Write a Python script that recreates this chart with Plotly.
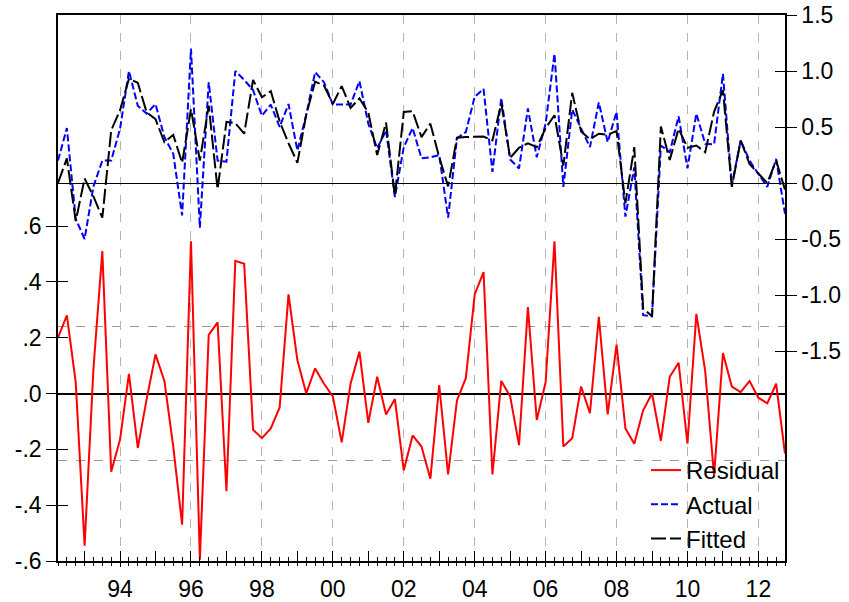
import pandas as pd
import plotly.graph_objects as go

# Quarterly sample 1992Q2 - 2012Q4
quarters = pd.period_range("1992Q2", "2012Q4", freq="Q")

residual = [
    0.20, 0.28, 0.04, -0.545, 0.09, 0.51, -0.28, -0.165, 0.07, -0.195,
    -0.02, 0.14, 0.045, -0.19, -0.47, 0.545, -0.595, 0.21, 0.255, -0.35,
    0.475, 0.465, -0.13, -0.16, -0.125, -0.05, 0.355, 0.12, 0.00, 0.09,
    0.035, -0.01, -0.175, 0.035, 0.15, -0.105, 0.06, -0.075, -0.02, -0.275,
    -0.15, -0.19, -0.305, 0.03, -0.29, -0.025, 0.055, 0.355, 0.435, -0.29,
    0.045, -0.01, -0.185, 0.31, -0.095, 0.04, 0.545, -0.19, -0.16, 0.025,
    -0.07, 0.275, -0.075, 0.175, -0.125, -0.18, -0.06, 0.00, -0.17, 0.06,
    0.11, -0.18, 0.285, 0.08, -0.295, 0.145, 0.025, 0.005, 0.045, -0.015,
    -0.035, 0.035, -0.215,
]

actual = [
    0.20, 0.49, -0.32, -0.50, -0.03, 0.20, 0.20, 0.485, 1.00, 0.69,
    0.62, 0.705, 0.41, 0.26, -0.29, 1.20, -0.40, 0.90, 0.20, 0.19,
    1.00, 0.92, 0.83, 0.60, 0.70, 0.50, 0.705, 0.29, 0.61, 0.99,
    0.90, 0.70, 0.70, 0.70, 0.91, 0.53, 0.31, 0.47, -0.125, 0.32,
    0.49, 0.22, 0.23, 0.25, -0.31, 0.40, 0.455, 0.77, 0.84, 0.10,
    0.76, 0.21, 0.13, 0.665, 0.23, 0.53, 1.155, -0.035, 0.655, 0.48,
    0.32, 0.72, 0.365, 0.635, -0.30, 0.14, -1.18, -1.19, 0.335, 0.275,
    0.595, 0.13, 0.62, 0.35, 0.345, 0.975, -0.02, 0.38, 0.20, 0.08,
    -0.035, 0.215, -0.275,
]

fitted = [
    0.00, 0.22, -0.34, 0.04, -0.12, -0.31, 0.47, 0.65, 0.93, 0.895,
    0.63, 0.57, 0.365, 0.43, 0.18, 0.66, 0.20, 0.69, -0.055, 0.545,
    0.535, 0.44, 0.92, 0.765, 0.82, 0.55, 0.355, 0.18, 0.61, 0.905,
    0.87, 0.705, 0.865, 0.67, 0.755, 0.63, 0.25, 0.54, -0.115, 0.635,
    0.64, 0.41, 0.53, 0.23, -0.03, 0.405, 0.41, 0.415, 0.415, 0.38,
    0.71, 0.225, 0.315, 0.355, 0.32, 0.49, 0.605, 0.155, 0.805, 0.46,
    0.39, 0.44, 0.43, 0.465, -0.18, 0.32, -1.12, -1.19, 0.505, 0.205,
    0.485, 0.315, 0.335, 0.275, 0.635, 0.83, -0.035, 0.38, 0.17, 0.085,
    0.00, 0.20, -0.06,
]

# standard error of the regression (band around the residual zero line)
se_regression = 0.24

resid_ticks = [-0.6, -0.4, -0.2, 0.0, 0.2, 0.4, 0.6]
resid_ticktext = ["-.6", "-.4", "-.2", ".0", ".2", ".4", ".6"]
level_ticks = [-1.5, -1.0, -0.5, 0.0, 0.5, 1.0, 1.5]
level_ticktext = ["-1.5", "-1.0", "-0.5", "0.0", "0.5", "1.0", "1.5"]
label_years = list(range(1994, 2013, 2))

# numeric time axis: year + (quarter-1)/4
x = [q.year + (q.quarter - 1) / 4 for q in quarters]
year_starts = [y for y in range(1993, 2013)]
quarter_marks = x

FONT = "Liberation Sans, Arial, Helvetica, sans-serif"

fig = go.Figure()
fig.add_trace(go.Scatter(x=x, y=residual, name="Residual", mode="lines",
                         line=dict(color="#ff0000", width=2), xaxis="x", yaxis="y"))
fig.add_trace(go.Scatter(x=x, y=actual, name="Actual", mode="lines",
                         line=dict(color="#0000ff", width=2, dash="7px,3px"),
                         xaxis="x", yaxis="y2"))
fig.add_trace(go.Scatter(x=x, y=fitted, name="Fitted", mode="lines",
                         line=dict(color="#000000", width=2, dash="15px,4px"),
                         xaxis="x", yaxis="y2"))

# empty helper traces so the tick-only overlay axes get drawn
for xa, ya in [("x2", "y"), ("x3", "y"), ("x4", "y"), ("x", "y3"), ("x", "y4")]:
    fig.add_trace(go.Scatter(x=[], y=[], xaxis=xa, yaxis=ya, showlegend=False,
                             hoverinfo="skip"))

xr = [x[0], x[-1]]
left_range = [-0.6, 1.356]
right_range = [-3.375, 1.5]
tickfont = dict(family=FONT, size=23, color="black")


def tick_axis(**kw):
    """Overlay axis that only contributes tick marks."""
    base = dict(tickwidth=1, tickcolor="black", showticklabels=False,
                showgrid=False, showline=False, zeroline=False, automargin=False)
    base.update(kw)
    return base


fig.update_layout(
    template="none",
    width=849, height=602,
    margin=dict(l=58, r=64, t=15, b=41, pad=0),
    paper_bgcolor="white", plot_bgcolor="white",
    font=dict(family=FONT, color="black"),
    showlegend=True,
    legend=dict(x=1.0, y=0.0, xanchor="right", yanchor="bottom",
                bgcolor="rgba(0,0,0,0)", borderwidth=0,
                font=dict(family=FONT, size=24), tracegroupgap=0),
    xaxis=dict(range=xr, anchor="y", tickmode="array", automargin=False,
               tickvals=label_years, ticktext=[f"{y % 100:02d}" for y in label_years],
               ticks="outside", ticklen=4, tickwidth=1, tickcolor="black",
               ticklabelstandoff=3,
               showgrid=True, gridcolor="#b4b4b4", griddash="dash", gridwidth=1,
               showline=True, linecolor="black", linewidth=1.5, mirror=True,
               zeroline=False, tickfont=tickfont),
    xaxis2=tick_axis(range=xr, overlaying="x", anchor="y", side="bottom",
                     tickmode="array", tickvals=quarter_marks, ticks="outside", ticklen=4),
    xaxis3=tick_axis(range=xr, overlaying="x", anchor="y", side="bottom",
                     tickmode="array", tickvals=year_starts, ticks="inside", ticklen=10),
    xaxis4=tick_axis(range=xr, overlaying="x", anchor="y", side="bottom",
                     tickmode="array", tickvals=quarter_marks, ticks="inside", ticklen=4),
    yaxis=dict(range=left_range, anchor="x", side="left", tickmode="array",
               automargin=False,
               tickvals=resid_ticks, ticktext=resid_ticktext,
               ticks="outside", ticklen=10, tickwidth=1, tickcolor="black",
               showgrid=False, showline=True, linecolor="black", linewidth=1.5,
               zeroline=True, zerolinecolor="black", zerolinewidth=1.5,
               tickfont=tickfont),
    yaxis3=tick_axis(range=left_range, overlaying="y", anchor="x", side="left",
                     tickmode="array", tickvals=resid_ticks, ticks="inside", ticklen=10),
    yaxis2=dict(range=right_range, overlaying="y", anchor="x", side="right",
                automargin=False,
                tickmode="array", tickvals=level_ticks, ticktext=level_ticktext,
                ticks="outside", ticklen=10, tickwidth=1, tickcolor="black",
                showgrid=False, showline=True, linecolor="black", linewidth=1.5,
                zeroline=True, zerolinecolor="black", zerolinewidth=1,
                tickfont=tickfont),
    yaxis4=tick_axis(range=right_range, overlaying="y", anchor="x", side="right",
                     tickmode="array", tickvals=level_ticks, ticks="inside", ticklen=10),
)

# +/- one standard error band for the residuals
for level in (se_regression, -se_regression):
    fig.add_shape(type="line", xref="paper", x0=0, x1=1, yref="y", y0=level, y1=level,
                  line=dict(color="#999999", width=1, dash="dash"), layer="below")

fig.write_html("out.html")
